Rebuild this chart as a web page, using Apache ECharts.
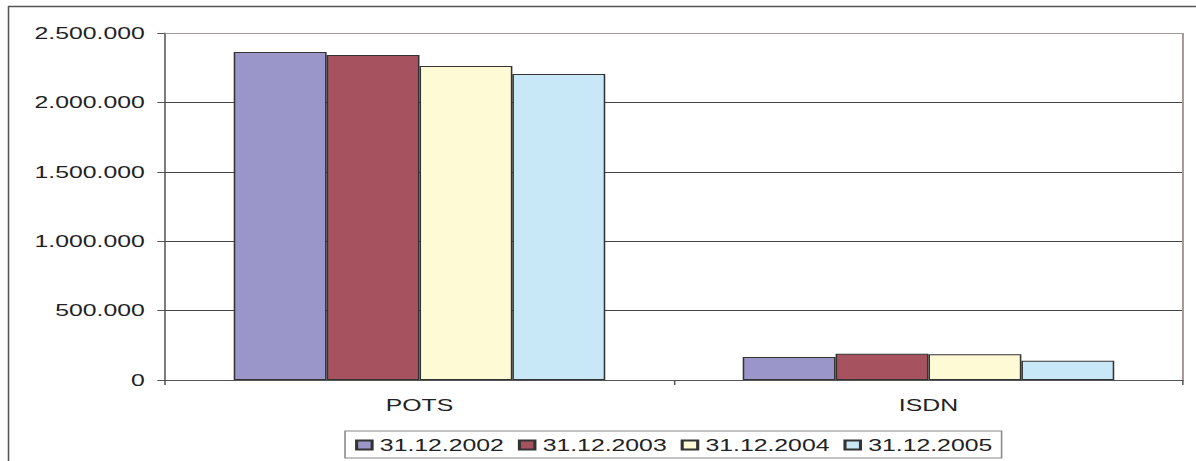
<!DOCTYPE html>
<html><head><meta charset="utf-8">
<script src="https://cdn.jsdelivr.net/npm/echarts@6/dist/echarts.min.js"></script>
<style>
html,body{margin:0;padding:0;background:#fff;overflow:hidden;width:1196px;height:461px}
#c{width:772px;height:461px;transform:scaleX(1.5492);transform-origin:0 0}
</style>
</head><body><div id="c"></div>
<script>
const categories = ['POTS', 'ISDN'];
const seriesNames = ['31.12.2002', '31.12.2003', '31.12.2004', '31.12.2005'];
const v2002 = [2363000, 166000];
const v2003 = [2341000, 190000];
const v2004 = [2262000, 185000];
const v2005 = [2205000, 139000];
const yTicks = [0, 500000, 1000000, 1500000, 2000000, 2500000];
const colors = ['#9B96C9', '#A6535F', '#FFFAD6', '#C8E8F8'];
const values = [v2002, v2003, v2004, v2005];

const chart = echarts.init(document.getElementById('c'), null, {renderer: 'svg'});
const font = 'Liberation Sans, Arial, sans-serif';
chart.setOption({
  animation: false,
  textStyle: {fontFamily: font},
  graphic: [
    {type: 'line', shape: {x1: 5.2, y1: 6.5, x2: 772, y2: 6.5}, style: {stroke: '#555', lineWidth: 1.5}},
    {type: 'line', shape: {x1: 5.5, y1: 6, x2: 5.5, y2: 461}, style: {stroke: '#555', lineWidth: 1}},
    {type: 'line', shape: {x1: 763.6, y1: 33, x2: 763.6, y2: 380}, style: {stroke: '#A89898', lineWidth: 1.3}, z: 10},
    {type: 'line', shape: {x1: 106.5, y1: 33.5, x2: 763.6, y2: 33.5}, style: {stroke: '#A89898', lineWidth: 1}, z: 10}
  ],
  grid: {left: 106.5, right: 8.4, top: 33, bottom: 81, containLabel: false},
  legend: {
    left: 222.7, top: 431,
    data: seriesNames,
    itemWidth: 10, itemHeight: 9, itemGap: 9,
    padding: [6, 6, 5, 6.5],
    borderColor: '#888', borderWidth: 1,
    icon: 'rect',
    textStyle: {fontSize: 16, color: '#222', fontFamily: font}
  },
  xAxis: {
    type: 'category', data: categories,
    axisLine: {lineStyle: {color: '#555', width: 1}},
    axisTick: {show: true, length: 5, lineStyle: {color: '#555'}},
    axisLabel: {fontSize: 16, color: '#222', margin: 17, fontFamily: font}
  },
  yAxis: {
    type: 'value', min: yTicks[0], max: yTicks[yTicks.length - 1], interval: yTicks[1] - yTicks[0],
    axisLine: {show: true, lineStyle: {color: '#555', width: 1}},
    axisTick: {show: true, length: 5, lineStyle: {color: '#555'}},
    splitLine: {lineStyle: {color: '#444', width: 1}},
    axisLabel: {fontSize: 16, color: '#222', margin: 13, fontFamily: font,
      formatter: v => String(v).replace(/\B(?=(\d{3})+(?!\d))/g, '.')}
  },
  series: seriesNames.map((n, i) => ({
    name: n, type: 'bar', data: values[i],
    barGap: '0%', barCategoryGap: '27%',
    itemStyle: {color: colors[i], borderColor: '#333', borderWidth: 1}
  }))
});
</script></body></html>
